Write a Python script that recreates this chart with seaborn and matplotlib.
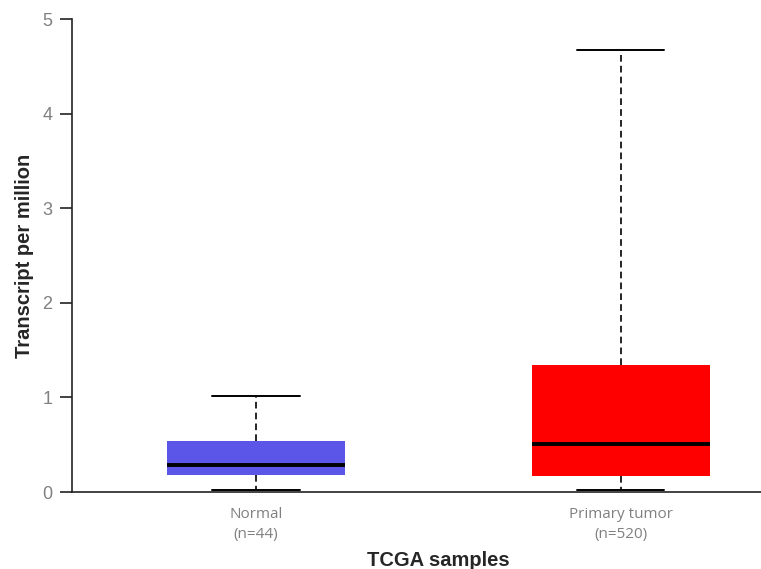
import numpy as np
import pandas as pd
import matplotlib
matplotlib.use("Agg")
import matplotlib.pyplot as plt
import seaborn as sns

# Box statistics: min, Q1, median, Q3, max
categories = ["Normal\n(n=44)", "Primary tumor\n(n=520)"]
normal_stats = [0.02, 0.18, 0.285, 0.54, 1.01]
tumor_stats = [0.02, 0.17, 0.51, 1.34, 4.67]
colors = ["#5B55E8", "#FF0000"]
y_ticks = [0, 1, 2, 3, 4, 5]

df = pd.DataFrame({
    "group": [categories[0]] * len(normal_stats) + [categories[1]] * len(tumor_stats),
    "tpm": normal_stats + tumor_stats,
})

sns.set_style("white")
plt.rcParams["font.family"] = ["Liberation Sans", "DejaVu Sans"]

fig = plt.figure(figsize=(7.61, 5.69), dpi=100)
ax = fig.add_axes([0.0946, 0.1353, 0.9054, 0.8313])

sns.boxplot(
    data=df, x="group", y="tpm", hue="group", palette=colors, legend=False,
    order=categories, hue_order=categories, saturation=1,
    whis=np.inf, width=0.488, ax=ax,
    boxprops=dict(linewidth=0),
    medianprops=dict(color="black", linewidth=2.8),
    whiskerprops=dict(color="black", linewidth=1.2, linestyle=(0, (4, 2.5))),
    capprops=dict(color="black", linewidth=1.4),
    capwidths=0.24,
)

ax.set_xlim(-0.504, 1.385)
ax.set_ylim(0, 5)
ax.set_yticks(y_ticks)
ax.tick_params(axis="y", length=9, width=1.2, color="#222222", labelsize=13,
               labelcolor="#808080", left=True, pad=5)
ax.tick_params(axis="x", length=0, labelsize=11, labelcolor="#808080", pad=11)
for lbl in ax.get_xticklabels():
    lbl.set_family(["Open Sans", "DejaVu Sans"])
    lbl.set_linespacing(1.45)

for s in ["top", "right"]:
    ax.spines[s].set_visible(False)
for s in ["left", "bottom"]:
    ax.spines[s].set_color("#222222")
    ax.spines[s].set_linewidth(1.2)

ax.set_xlabel("TCGA samples", fontsize=14.5, fontweight="bold", labelpad=6)
ax.xaxis.label.set_x(0.531)
ax.set_ylabel("Transcript per million", fontsize=14.5, fontweight="bold", labelpad=6)

fig.savefig("out.png", dpi=100)
